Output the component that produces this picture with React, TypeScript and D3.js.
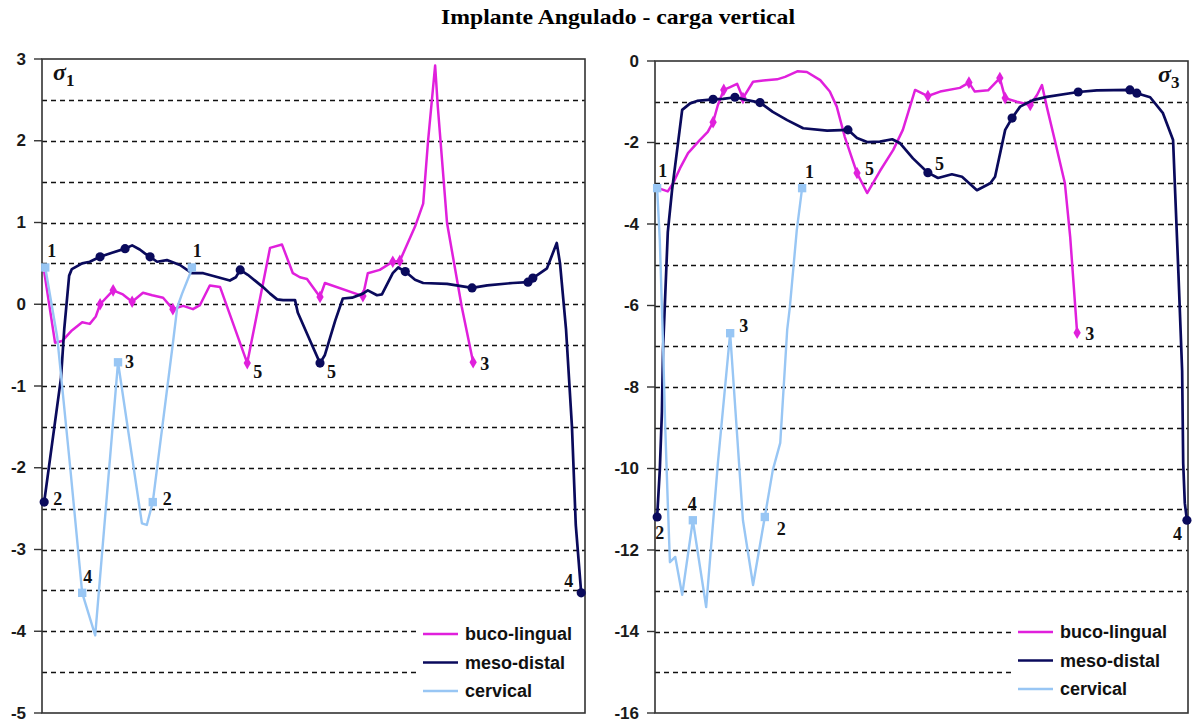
import React from "react";
import * as d3 from "d3";

// Stress along the section (position 0–100 %), value in MPa; third item flags a marker.
type Pt = [number, number, number?];

const s1BucoLingual: Pt[] = [
  [0.4, 0.4], [2.4, -0.47], [3.7, -0.45], [5.5, -0.32], [7.4, -0.22], [8.8, -0.24], [9.9, -0.15],
  [10.7, 0.0, 1], [13.1, 0.17, 1], [14.9, 0.12], [16.6, 0.03, 1], [18.6, 0.14], [20.3, 0.11],
  [22.3, 0.08], [24.1, -0.06, 1], [26.0, -0.02], [27.8, -0.06], [29.1, -0.01], [30.9, 0.23],
  [32.8, 0.21], [37.8, -0.72, 1], [42.0, 0.69], [44.2, 0.73], [46.2, 0.38], [47.5, 0.33],
  [48.8, 0.31], [51.2, 0.09, 1], [52.1, 0.26], [59.1, 0.1, 1], [60.0, 0.38], [62.2, 0.42],
  [64.6, 0.52, 1], [65.9, 0.53, 1], [68.7, 0.95], [70.2, 1.23], [71.1, 2.0], [72.4, 2.92],
  [72.9, 2.41], [74.6, 0.99], [77.3, -0.03], [79.4, -0.71, 1],
];

const s1MesoDistal: Pt[] = [
  [0.4, -2.42, 1], [3.5, -0.9], [4.1, -0.3], [5.0, 0.35], [5.5, 0.43], [7.4, 0.5], [8.8, 0.52],
  [10.7, 0.58, 1], [12.9, 0.63], [15.3, 0.68, 1], [16.6, 0.72], [18.0, 0.67], [19.0, 0.62],
  [19.9, 0.58, 1], [21.2, 0.52], [23.0, 0.54], [25.4, 0.48], [27.6, 0.38], [29.7, 0.38],
  [31.9, 0.34], [34.6, 0.29], [35.7, 0.33], [36.5, 0.42, 1], [37.9, 0.36], [39.4, 0.28],
  [40.7, 0.21], [42.0, 0.13], [43.3, 0.06], [44.4, 0.05], [46.6, 0.05], [47.1, -0.1],
  [49.4, -0.45], [51.2, -0.72, 1], [52.1, -0.62], [54.0, -0.2], [55.4, 0.07], [57.1, 0.08],
  [59.1, 0.13], [60.0, 0.17], [61.7, 0.11], [62.6, 0.12], [64.6, 0.38], [65.6, 0.45],
  [66.9, 0.4, 1], [68.7, 0.3], [70.2, 0.26], [74.6, 0.25], [79.2, 0.2, 1], [82.0, 0.23],
  [86.7, 0.26], [89.5, 0.27, 1], [90.4, 0.32, 1], [93.0, 0.44], [94.8, 0.75], [95.4, 0.5],
  [96.5, -0.3], [97.6, -1.5], [98.3, -2.7], [99.3, -3.53, 1],
];

const s1Cervical: Pt[] = [
  [0.6, 0.45, 1], [2.8, -0.4], [5.2, -2.0], [7.4, -3.53, 1], [9.8, -4.05], [14.0, -0.71, 1],
  [18.4, -2.68], [19.3, -2.7], [20.4, -2.42, 1], [24.1, -0.48], [24.9, -0.04], [25.8, 0.13],
  [27.3, 0.38], [27.6, 0.45, 1],
];

const s3BucoLingual: Pt[] = [
  [0.6, -3.12], [2.4, -3.2], [3.4, -3.0], [4.7, -2.63], [6.2, -2.26], [8.4, -1.94], [9.9, -1.74],
  [10.9, -1.5, 1], [11.8, -1.08], [12.9, -0.71, 1], [14.1, -0.64], [15.4, -0.56], [16.5, -0.91, 1],
  [18.4, -0.51], [20.3, -0.48], [22.9, -0.45], [24.4, -0.39], [26.8, -0.25], [28.5, -0.27],
  [31.0, -0.47], [32.8, -0.75], [34.1, -1.12], [35.6, -1.86], [37.9, -2.75, 1], [39.8, -3.24],
  [42.2, -2.7], [44.7, -2.18], [46.5, -1.69], [48.8, -0.71], [51.2, -0.86, 1], [53.5, -0.75],
  [57.2, -0.66], [58.9, -0.53, 1], [60.0, -0.75], [62.5, -0.72], [64.7, -0.42, 1], [65.7, -0.91, 1],
  [67.9, -1.0], [70.4, -1.08, 1], [71.7, -0.83], [72.6, -0.59], [73.5, -1.12], [75.0, -1.94],
  [76.9, -3.0], [77.9, -4.32], [79.2, -6.67, 1],
];

const s3MesoDistal: Pt[] = [
  [0.4, -11.19, 1], [0.9, -10.04], [1.3, -8.6], [1.5, -7.1], [2.4, -4.2], [3.2, -3.17], [5.1, -1.2],
  [6.6, -1.04], [7.9, -0.98], [10.9, -0.94, 1], [12.8, -0.93], [15.0, -0.89, 1], [17.3, -0.96],
  [19.7, -1.02, 1], [22.1, -1.25], [24.8, -1.45], [27.8, -1.65], [32.3, -1.71], [36.2, -1.69, 1],
  [37.9, -1.89], [39.8, -1.99], [42.2, -1.98], [44.5, -1.92], [46.0, -2.02], [48.4, -2.39],
  [51.2, -2.74, 1], [53.1, -2.87], [55.7, -2.78], [57.6, -2.84], [60.4, -3.17], [62.9, -3.0],
  [63.8, -2.84], [65.7, -1.69], [67.0, -1.4, 1], [68.5, -1.12], [70.9, -0.96], [73.5, -0.88],
  [79.4, -0.76, 1], [82.9, -0.72], [89.1, -0.71, 1], [90.4, -0.79, 1], [92.9, -0.89], [95.3, -1.28],
  [97.2, -1.94], [97.6, -3.25], [98.2, -5.2], [98.9, -7.6], [99.1, -9.87], [99.4, -10.85],
  [99.8, -11.27, 1],
];

const s3Cervical: Pt[] = [
  [0.4, -3.12, 1], [0.9, -4.4], [1.5, -6.9], [1.9, -8.9], [2.4, -10.85], [2.8, -12.3], [3.8, -12.17],
  [5.1, -13.1], [7.1, -11.27, 1], [9.6, -13.4], [11.8, -9.87], [14.1, -6.68, 1], [16.5, -11.27],
  [18.4, -12.86], [20.6, -11.19, 1], [22.1, -10.04], [23.5, -9.37], [24.8, -6.6], [25.3, -6.04],
  [26.6, -4.15], [27.6, -3.12, 1],
];

const seriesNames = ["buco-lingual", "meso-distal", "cervical"];
const seriesColors = ["#e020dc", "#0a0a5c", "#98c6f4"];
const seriesSymbols = [d3.symbolDiamond, d3.symbolCircle, d3.symbolSquare];
const seriesSymbolSizes = [46, 66, 70];
const seriesWidths = [2.5, 2.7, 2.4];

const s1Ticks = [3, 2, 1, 0, -1, -2, -3, -4, -5];
const s1Grid = [2.5, 2, 1.5, 1, 0.5, 0, -0.5, -1, -1.5, -2, -2.5, -3, -3.5, -4, -4.5];
const s3Ticks = [0, -2, -4, -6, -8, -10, -12, -14, -16];
const s3Grid = [-1, -2, -3, -4, -5, -6, -7, -8, -9, -10, -11, -12, -13, -14, -15];

// Point numbers: [series index, point index (negative counts from the end), text, dx, dy, anchor]
type Lbl = [number, number, string, number, number, string];
const s1Labels: Lbl[] = [
  [2, 0, "1", 2, -10, "start"],
  [2, -1, "1", 1, -10, "start"],
  [2, 5, "3", 7, 6, "start"],
  [2, 8, "2", 10, 3, "start"],
  [2, 3, "4", 1, -10, "start"],
  [1, 0, "2", 9, 3, "start"],
  [0, 20, "5", 6, 15, "start"],
  [1, 32, "5", 7, 15, "start"],
  [0, -1, "3", 7, 8, "start"],
  [1, -1, "4", -8, -6, "end"],
];
const s3Labels: Lbl[] = [
  [2, 0, "1", 1, -11, "start"],
  [2, -1, "1", 3, -10, "start"],
  [2, 11, "3", 9, -1, "start"],
  [1, 0, "2", -2, 22, "start"],
  [2, 8, "4", -5, -10, "start"],
  [2, 14, "2", 12, 18, "start"],
  [0, 23, "5", 8, 2, "start"],
  [1, 25, "5", 7, -3, "start"],
  [0, -1, "3", 8, 7, "start"],
  [1, -1, "4", -5, 20, "end"],
];

type PanelProps = {
  left: number;
  right: number;
  top: number;
  bottom: number;
  domain: [number, number];
  ticks: number[];
  grid: number[];
  series: Pt[][];
  labels: Lbl[];
  sigma: string;
  sigmaX: number;
  legendX: number;
  legendY: number;
};

function Panel(p: PanelProps) {
  const x = d3.scaleLinear().domain([0, 100]).range([p.left, p.right]);
  const y = d3.scaleLinear().domain(p.domain).range([p.bottom, p.top]);
  const line = d3
    .line<Pt>()
    .x((d) => x(d[0]))
    .y((d) => y(d[1]));
  const legendRows = [0, 28.5, 57];
  const gridEnd = (v: number) => {
    const yy = y(v);
    return yy > p.legendY - 18 ? p.legendX - 6 : p.right;
  };
  return (
    <g>
      {p.grid.map((g) => (
        <line
          key={"g" + g}
          x1={p.left}
          x2={gridEnd(g)}
          y1={Math.round(y(g)) + 0.5}
          y2={Math.round(y(g)) + 0.5}
          stroke="#111"
          strokeWidth={1.4}
          strokeDasharray="5,4"
        />
      ))}
      <rect
        x={p.left}
        y={p.top}
        width={p.right - p.left}
        height={p.bottom - p.top}
        fill="none"
        stroke="#333"
        strokeWidth={1.6}
      />
      {p.ticks.map((t) => (
        <g key={"t" + t}>
          <line x1={p.left - 8} x2={p.left} y1={y(t)} y2={y(t)} stroke="#333" strokeWidth={1.4} />
          <text
            x={p.left - 16}
            y={y(t)}
            textAnchor="end"
            dominantBaseline="central"
            fontFamily="Liberation Sans, Arial, sans-serif"
            fontSize={17}
            fontWeight="bold"
            fill="#1a1a1a"
          >
            {t}
          </text>
        </g>
      ))}
      {p.series.map((s, i) => (
        <g key={"s" + i}>
          <path d={line(s) || ""} fill="none" stroke={seriesColors[i]} strokeWidth={seriesWidths[i]} strokeLinejoin="round" />
          {s
            .filter((d) => d[2])
            .map((d, j) => (
              <path
                key={j}
                transform={`translate(${x(d[0])},${y(d[1])})`}
                d={d3.symbol().type(seriesSymbols[i]).size(seriesSymbolSizes[i])() || ""}
                fill={seriesColors[i]}
              />
            ))}
        </g>
      ))}
      {p.labels.map((l, k) => {
        const s = p.series[l[0]];
        const d = s[l[1] < 0 ? s.length + l[1] : l[1]];
        return (
          <text
            key={"l" + k}
            x={x(d[0]) + l[3]}
            y={y(d[1]) + l[4]}
            textAnchor={l[5]}
            fontFamily="Liberation Serif, Times New Roman, serif"
            fontWeight="bold"
            fontSize={18}
            fill="#111"
          >
            {l[2]}
          </text>
        );
      })}
      <text
        x={p.sigmaX}
        y={p.top + 21}
        fontFamily="Liberation Serif, Times New Roman, serif"
        fontWeight="bold"
        fontStyle="italic"
        fontSize={24}
        fill="#111"
      >
        σ
        <tspan fontSize={17} fontStyle="normal" dy={6}>
          {p.sigma}
        </tspan>
      </text>
      <rect x={p.legendX - 5} y={p.legendY - 16} width={p.right - p.legendX + 4} height={88} fill="#fff" />
      {seriesNames.map((n, i) => (
        <g key={"lg" + n}>
          <line
            x1={p.legendX}
            x2={p.legendX + 35}
            y1={p.legendY + legendRows[i]}
            y2={p.legendY + legendRows[i]}
            stroke={seriesColors[i]}
            strokeWidth={2.6}
          />
          <text
            x={p.legendX + 42}
            y={p.legendY + legendRows[i]}
            dominantBaseline="central"
            fontFamily="Liberation Sans, Arial, sans-serif"
            fontWeight="bold"
            fontSize={18}
            fill="#111"
          >
            {n}
          </text>
        </g>
      ))}
    </g>
  );
}

export default function App() {
  return (
    <svg
      width={1196}
      height={727}
      style={{ position: "absolute", left: 0, top: 0, background: "#fff" }}
    >
      <text
        x={618}
        y={24}
        textAnchor="middle"
        fontFamily="Liberation Serif, Times New Roman, serif"
        fontWeight="bold"
        fontSize={22}
        textLength={354}
        lengthAdjust="spacingAndGlyphs"
        fill="#000"
      >
        Implante Angulado - carga vertical
      </text>
      <Panel
        left={42}
        right={585}
        top={59}
        bottom={713}
        domain={[-5, 3]}
        ticks={s1Ticks}
        grid={s1Grid}
        series={[s1BucoLingual, s1MesoDistal, s1Cervical]}
        labels={s1Labels}
        sigma="1"
        sigmaX={53}
        legendX={423}
        legendY={634}
      />
      <Panel
        left={655}
        right={1188}
        top={61}
        bottom={713}
        domain={[-16, 0]}
        ticks={s3Ticks}
        grid={s3Grid}
        series={[s3BucoLingual, s3MesoDistal, s3Cervical]}
        labels={s3Labels}
        sigma="3"
        sigmaX={1158}
        legendX={1018}
        legendY={632}
      />
    </svg>
  );
}
